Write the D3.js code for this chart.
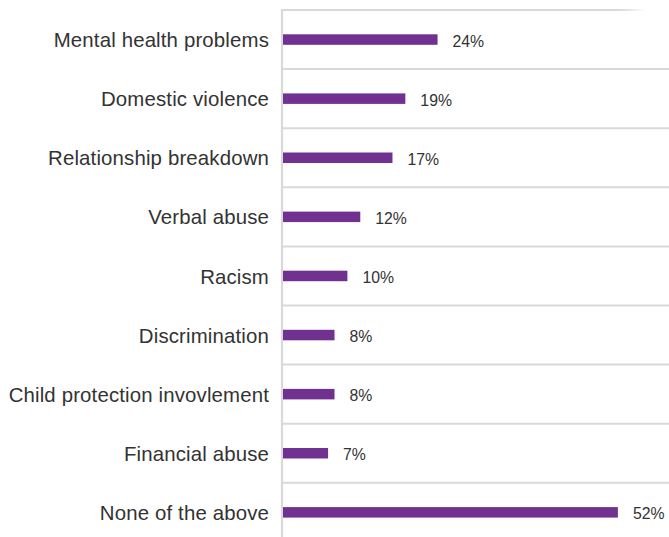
<!DOCTYPE html>
<html>
<head>
<meta charset="utf-8">
<script src="https://cdn.jsdelivr.net/npm/d3@7"></script>
<style>
  html, body { margin: 0; padding: 0; background: #ffffff; }
  svg { display: block; }
</style>
</head>
<body>
<svg id="chart" width="669" height="537"></svg>
<script>
// Share of respondents reporting each experience
const categories = [
  "Mental health problems",
  "Domestic violence",
  "Relationship breakdown",
  "Verbal abuse",
  "Racism",
  "Discrimination",
  "Child protection invovlement",
  "Financial abuse",
  "None of the above"
];
const values = [24, 19, 17, 12, 10, 8, 8, 7, 52];
const valueLabels = ["24%", "19%", "17%", "12%", "10%", "8%", "8%", "7%", "52%"];

(function draw() {
  const svg = d3.select("#chart");
  const W = 669;
  const plotLeft = 283, plotTop = 10, band = 59.1;

  const x = d3.scaleLinear().domain([0, 60]).range([plotLeft, plotLeft + 386.4]);
  const y = d3.scaleBand().domain(categories)
    .range([plotTop, plotTop + band * categories.length]).padding(0);

  const grid = "#d9d9d9";

  // fading gradient for the top frame line
  const defs = svg.append("defs");
  const grad = defs.append("linearGradient").attr("id", "topFade")
    .attr("gradientUnits", "userSpaceOnUse")
    .attr("x1", 282).attr("x2", 646).attr("y1", 0).attr("y2", 0);
  grad.append("stop").attr("offset", "0.93").attr("stop-color", grid).attr("stop-opacity", 1);
  grad.append("stop").attr("offset", "1").attr("stop-color", grid).attr("stop-opacity", 0);

  svg.append("line")
    .attr("x1", 282).attr("x2", 646)
    .attr("y1", plotTop).attr("y2", plotTop)
    .attr("stroke", "url(#topFade)").attr("stroke-width", 2);

  // separators between categories
  svg.append("g").selectAll("line")
    .data(categories.slice(1))
    .join("line")
    .attr("x1", 282).attr("x2", W)
    .attr("y1", d => y(d)).attr("y2", d => y(d))
    .attr("stroke", grid).attr("stroke-width", 2);

  // category axis
  const yAxis = d3.axisLeft(y).tickSize(0).tickPadding(13);
  const gy = svg.append("g").attr("transform", "translate(282,0)").call(yAxis);
  gy.select(".domain").attr("stroke", grid).attr("stroke-width", 2.2)
    .attr("d", `M0,${plotTop - 1}V537`);
  gy.selectAll(".tick text")
    .attr("font-family", "'Liberation Sans', Arial, sans-serif")
    .attr("font-size", "20.4px")
    .attr("letter-spacing", "0.15px")
    .attr("fill", "#333333")
    .attr("dy", "0.37em");

  // bars
  const barH = 10.5;
  svg.append("g").selectAll("rect")
    .data(values)
    .join("rect")
    .attr("x", x(0))
    .attr("y", (d, i) => y(categories[i]) + y.bandwidth() / 2 - barH / 2)
    .attr("width", d => x(d) - x(0))
    .attr("height", barH)
    .attr("fill", "#703190");

  // value labels
  svg.append("g").selectAll("text")
    .data(values)
    .join("text")
    .attr("x", d => x(d) + 15)
    .attr("y", (d, i) => y(categories[i]) + y.bandwidth() / 2 + 7)
    .attr("font-family", "'Liberation Sans', Arial, sans-serif")
    .attr("font-size", "15.8px")
    .attr("fill", "#333333")
    .text((d, i) => valueLabels[i]);
})();
</script>
</body>
</html>
